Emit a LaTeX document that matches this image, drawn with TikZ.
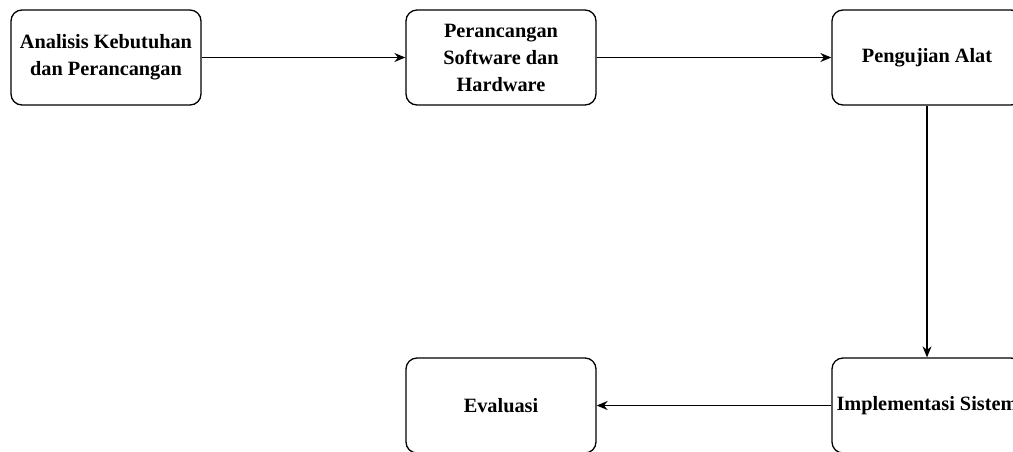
\documentclass[tikz,border=0pt]{standalone}
\usepackage{fontspec}
\setmainfont{Liberation Serif}
\usepackage{tikz}
\usetikzlibrary{arrows.meta,positioning}

\begin{document}
\begin{tikzpicture}[x=1pt, y=-1pt,
    tahap/.style={draw, line width=1.3pt, rounded corners=11pt, minimum width=190pt,
    minimum height=95pt, inner sep=0pt, align=center,
    font=\fontsize{20.3}{27}\selectfont\bfseries},
    alur/.style={line width=1.3pt, -{Stealth[length=11pt, width=9pt]}}]
    \useasboundingbox (0,0) rectangle (1013,451);
    \clip (0,0) rectangle (1013,451);

    \node[tahap] (analisis) at (106,57.5) {Analisis Kebutuhan\\dan Perancangan};
    \node[tahap] (rancang) at (501,57.5) {Perancangan\\Software dan\\Hardware};
    \node[tahap] (uji) at (927,57.5) {Pengujian Alat};
    \node[tahap] (evaluasi) at (501,405.5) {Evaluasi};
    \node[tahap] (implementasi) at (927,405.5) {Implementasi Sistem};

        \draw[alur] (analisis) -- (rancang);
        \draw[alur] (rancang) -- (uji);
        \draw[alur] (uji) -- (implementasi);
        \draw[alur] (implementasi) -- (evaluasi);
    \end{tikzpicture}
\end{document}
